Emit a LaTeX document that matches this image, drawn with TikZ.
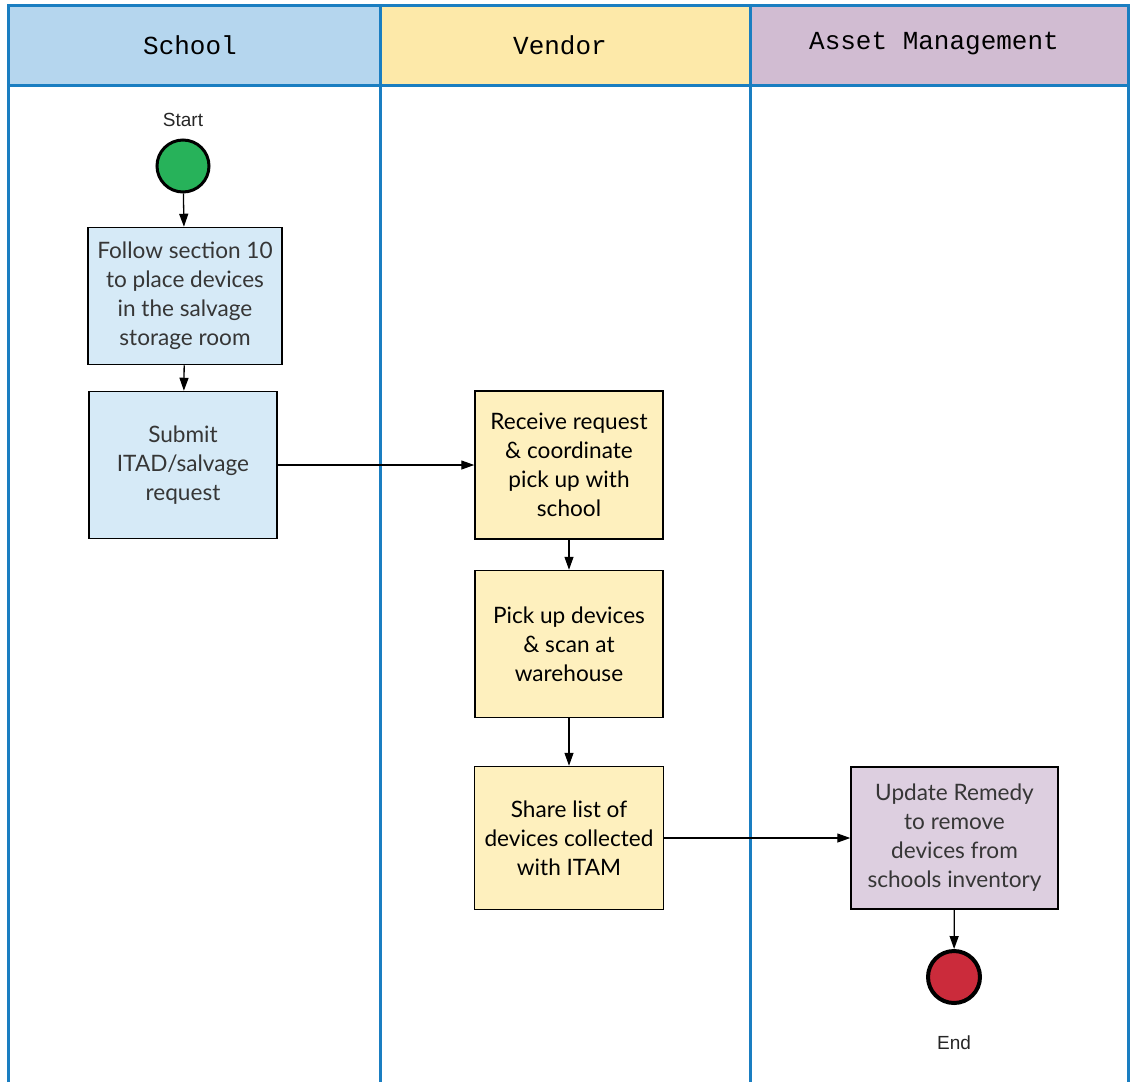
\documentclass[tikz,border=0pt]{standalone}
\usepackage{fontspec}
\setmainfont{Lato}
\setmonofont{Liberation Mono}
\newfontfamily\arialfont{Liberation Sans}
\usetikzlibrary{arrows.meta}
\definecolor{laneline}{HTML}{1A7EC1}
\definecolor{schoolhead}{HTML}{B5D6EE}
\definecolor{vendorhead}{HTML}{FDE9A9}
\definecolor{assethead}{HTML}{D1BCD2}
\definecolor{schoolfill}{HTML}{D6EAF7}
\definecolor{vendorfill}{HTML}{FEF0BE}
\definecolor{assetfill}{HTML}{DDCFE0}
\definecolor{startgreen}{HTML}{27B25A}
\definecolor{endred}{HTML}{CB2B3B}
\definecolor{softtext}{HTML}{363636}
\tikzset{
  task/.style={draw=black,line width=1.5pt,align=center,inner sep=0pt,
    font=\fontsize{22.6}{29}\selectfont},
  schooltask/.style={task,fill=schoolfill,text=softtext},
  vendortask/.style={task,fill=vendorfill,text=black},
  assettask/.style={task,fill=assetfill,text=softtext},
  event/.style={circle,draw=black,minimum size=52pt,inner sep=0pt},
  eventlabel/.style={font=\arialfont\fontsize{19}{22}\selectfont,text=black!85},
  lanetitle/.style={font=\ttfamily\fontsize{26}{30}\selectfont},
  flow/.style={->,line width=1.3pt}
}
\begin{document}
\begin{tikzpicture}[x=1pt,y=-1pt,>={Triangle[length=13pt,width=9pt]}]
\useasboundingbox (0,0) rectangle (1135,1082);
% lane headers
\fill[schoolhead] (8,5) rectangle (380,85);
\fill[vendorhead] (380,5) rectangle (750,85);
\fill[assethead] (750,5) rectangle (1128,85);
\draw[laneline,line width=3pt] (8,1082)--(8,5)--(1128,5)--(1128,1082);
\draw[laneline,line width=3pt] (8,85)--(1128,85) (380,5)--(380,1082) (750,5)--(750,1082);
\node[lanetitle] (schoolttl) at (190,45) {School};
\node[lanetitle] (vendorttl) at (560,45) {Vendor};
\node[lanetitle] (assetttl) at (934,44) {Asset Management};
% school
\node[eventlabel] (startlbl) at (183,120) {Start};
\node[event,fill=startgreen,line width=3pt] (start) at (183,166) {};
\node[schooltask,minimum width=194pt,minimum height=137pt] (place) at (185,296)
  {Follow section 10\\to place devices\\in the salvage\\storage room};
\node[schooltask,minimum width=188pt,minimum height=147pt] (submit) at (183,465)
  {Submit\\ITAD/salvage\\request};
% vendor
\node[vendortask,minimum width=188pt,minimum height=148pt] (receive) at (569,465)
  {Receive request\\\& coordinate\\pick up with\\school};
\node[vendortask,minimum width=188pt,minimum height=147pt] (pickup) at (569,644)
  {Pick up devices\\\& scan at\\warehouse};
\node[vendortask,minimum width=189pt,minimum height=143pt] (share) at (569,838)
  {Share list of\\devices collected\\with ITAM};
% asset management
\node[assettask,minimum width=207pt,minimum height=142pt] (update) at (954.5,838)
  {Update Remedy\\to remove\\devices from\\schools inventory};
\node[event,fill=endred,line width=4pt] (end) at (954,977) {};
\node[eventlabel] (endlbl) at (954,1043) {End};
% flows
\draw[flow] (start)--(place);
\draw[flow] (place)--(submit);
\draw[flow] (submit)--(receive);
\draw[flow] (receive)--(pickup);
\draw[flow] (pickup)--(share);
\draw[flow] (share)--(update);
\draw[flow] (update)--(end);
\end{tikzpicture}
\end{document}
